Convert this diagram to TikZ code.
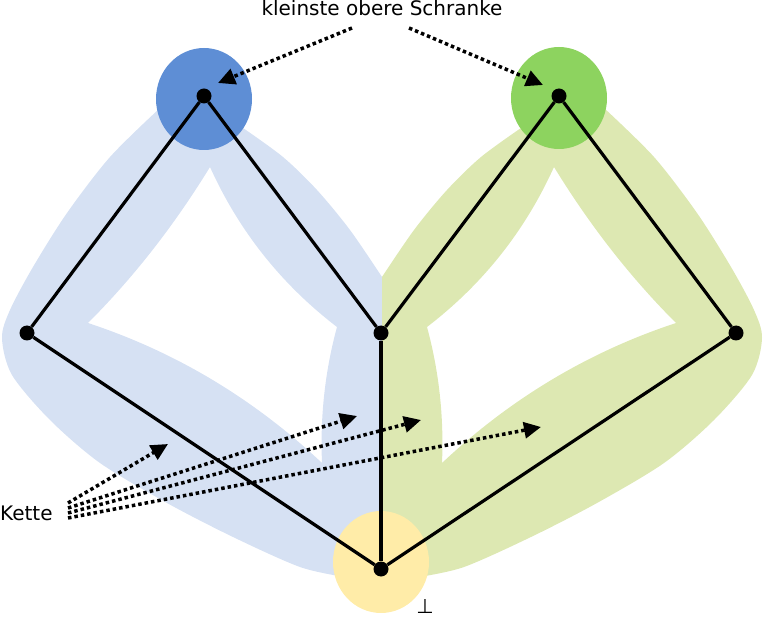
\documentclass[tikz,border=0pt]{standalone}
\usepackage{fontspec}
\setmainfont{DejaVu Sans}
\usetikzlibrary{arrows.meta}
\definecolor{bandblue}{RGB}{214,225,243}
\definecolor{topblue}{RGB}{94,142,213}
\definecolor{bandgreen}{RGB}{221,232,178}
\definecolor{topgreen}{RGB}{141,211,95}
\definecolor{botyellow}{RGB}{255,236,168}
\tikzset{
  chainband/.style={insert path={
    plot[smooth] coordinates {(382,277) (350,230) (317,190) (283,157) (243,128)}
    -- (215,92) -- (165,100)
    -- plot[smooth] coordinates {(160,108) (110,157) (67,213) (33,267) (10,310) (2,338) (12,375) (50,420) (100,463) (167,503) (233,537) (300,567) (345,577)}
    -- (382,580) -- cycle
    (210,167) .. controls (175,224) and (135,276) .. (88,323)
    .. controls (176,352) and (254,399) .. (322,463)
    .. controls (320,417) and (325,371) .. (337,327)
    .. controls (281,284) and (239,231) .. (210,167) -- cycle}},
  vertex/.style={circle, fill=black, inner sep=0pt, minimum size=15pt},
  edge/.style={line width=3.2pt},
  pointer/.style={line width=3.5pt, dash pattern=on 3.5pt off 3pt, -{Triangle[length=17pt,width=16pt]}},
  lbl/.style={inner sep=0pt, font=\fontsize{20}{24}\selectfont}
}

\begin{document}
\begin{tikzpicture}[x=1pt, y=-1pt]
\useasboundingbox (0,0) rectangle (766,620);

\fill[bandblue, even odd rule, chainband];
\begin{scope}[xshift=764pt, xscale=-1]
  \fill[bandgreen, even odd rule, chainband];
\end{scope}

\fill[topblue] (204,99) ellipse [x radius=48pt, y radius=51pt];
\fill[topgreen] (559,98) ellipse [x radius=48pt, y radius=51pt];
\fill[botyellow] (381,562) ellipse [x radius=48pt, y radius=51pt];

\node[vertex] (topl) at (204,96) {};
\node[vertex] (topr) at (559,96) {};
\node[vertex] (lft) at (27,333) {};
\node[vertex] (mid) at (381,333) {};
\node[vertex] (rgt) at (736,333) {};
\node[vertex] (bot) at (381,569) {};

\draw[edge] (lft) -- (topl) -- (mid) -- (topr) -- (rgt);
\draw[edge] (lft) -- (bot) -- (rgt);
\draw[edge] (mid) -- (bot);

\node[lbl, anchor=base] (lub) at (382,16) {kleinste obere Schranke};
\node[lbl, anchor=base west] (kette) at (0,520) {Kette};
\node[lbl, anchor=base] (bottom) at (425,613) {⊥};

\coordinate (lubl) at (352,28);
\coordinate (lubr) at (409,28);
\draw[pointer] (lubl) -- (218,83);
\draw[pointer] (lubr) -- (543,85);

\foreach \tx/\ty [count=\i] in {168/444, 357/416, 421/420, 541/427}
{
  \coordinate (ks\i) at (68,{498+5*\i});
  \coordinate (kt\i) at (\tx,\ty);
  \draw[pointer] (ks\i) -- (kt\i);
}

\end{tikzpicture}
\end{document}
